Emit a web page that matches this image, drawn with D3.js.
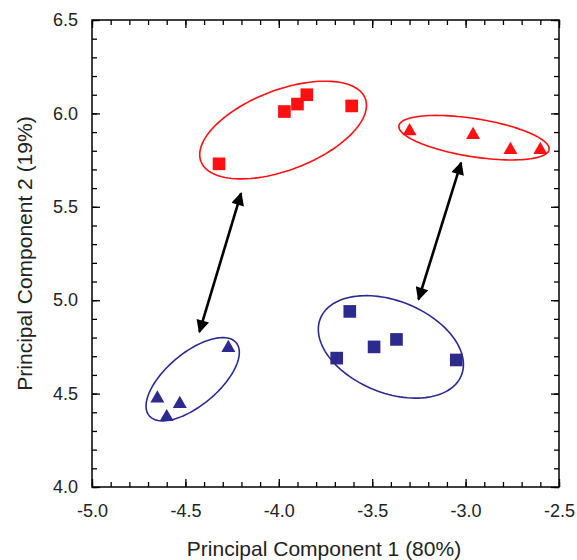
<!DOCTYPE html>
<html lang="en">
<head>
  <meta charset="UTF-8">
  <title>PCA scatter</title>
  <script src="https://d3js.org/d3.v7.min.js"></script>
  <style>
    body { margin: 0; background: #fff; font-family: "Liberation Sans", Arial, sans-serif; }
    .tick text { font-size: 18px; fill: #222; font-family: "Liberation Sans", Arial, sans-serif; }
  </style>
</head>
<body>
  <svg width="577" height="560"></svg>

  <script>
    // data, in PCA units
    const redSquares   = [[-4.32, 5.73], [-3.97, 6.01], [-3.90, 6.05], [-3.85, 6.10], [-3.61, 6.04]];
    const redTriangles = [[-3.30, 5.91], [-2.96, 5.89], [-2.76, 5.81], [-2.60, 5.81]];
    const blueTriangles = [[-4.65, 4.48], [-4.60, 4.38], [-4.53, 4.45], [-4.27, 4.75]];
    const blueSquares  = [[-3.62, 4.94], [-3.69, 4.69], [-3.49, 4.75], [-3.37, 4.79], [-3.05, 4.68]];

    // ellipses: center x, center y, semi-major, semi-minor, angle (deg)
    const ellipses = [
      {cx: -3.977, cy: 5.911, a: 0.471, b: 0.214, angle: 21, color: "red"},
      {cx: -2.955, cy: 5.870, a: 0.407, b: 0.102, angle: -9, color: "red"},
      {cx: -4.461, cy: 4.577, a: 0.304, b: 0.140, angle: 40, color: "blue"},
      {cx: -3.400, cy: 4.750, a: 0.407, b: 0.246, angle: -22, color: "blue"}
    ];

    // double headed arrows: [x1, y1, x2, y2]
    const arrows = [
      [-4.425, 4.830, -4.202, 5.572],
      [-3.252, 5.004, -3.024, 5.736]
    ];

    const xTicks = [-5.0, -4.5, -4.0, -3.5, -3.0, -2.5];
    const yTicks = [4.0, 4.5, 5.0, 5.5, 6.0, 6.5];

    const colors = {red: "#ff1010", blue: "#2c2a8e"};

    const svg = d3.select("svg");
    const margin = {top: 20, right: 18, bottom: 73, left: 92};
    const width = +svg.attr("width") - margin.left - margin.right;
    const height = +svg.attr("height") - margin.top - margin.bottom;

    const chart = svg.append("g")
        .attr("transform", `translate(${margin.left},${margin.top})`);

    const x = d3.scaleLinear().domain([-5, -2.5]).range([0, width]);
    const y = d3.scaleLinear().domain([4, 6.5]).range([height, 0]);

    const minorX = d3.range(-5, -2.5 + 1e-9, 0.1);
    const minorY = d3.range(4, 6.5 + 1e-9, 0.1);

    const fmt = d => d.toFixed(1);

    function styleAxis(g) {
      g.select(".domain").remove();
      g.selectAll(".tick line").attr("stroke", "#000").attr("stroke-width", 1.3);
    }

    // minor ticks (all four sides)
    chart.append("g").attr("transform", `translate(0,${height})`)
        .call(d3.axisBottom(x).tickValues(minorX).tickSize(-5).tickFormat("")).call(styleAxis);
    chart.append("g")
        .call(d3.axisTop(x).tickValues(minorX).tickSize(-5).tickFormat("")).call(styleAxis);
    chart.append("g")
        .call(d3.axisLeft(y).tickValues(minorY).tickSize(-5).tickFormat("")).call(styleAxis);
    chart.append("g").attr("transform", `translate(${width},0)`)
        .call(d3.axisRight(y).tickValues(minorY).tickSize(-5).tickFormat("")).call(styleAxis);

    // major ticks with labels
    chart.append("g").attr("transform", `translate(0,${height})`)
        .call(d3.axisBottom(x).tickValues(xTicks).tickSize(-8).tickPadding(17).tickFormat(fmt))
        .call(styleAxis);
    chart.append("g")
        .call(d3.axisTop(x).tickValues(xTicks).tickSize(-8).tickFormat("")).call(styleAxis);
    chart.append("g")
        .call(d3.axisLeft(y).tickValues(yTicks).tickSize(-8).tickPadding(14).tickFormat(fmt))
        .call(styleAxis);
    chart.append("g").attr("transform", `translate(${width},0)`)
        .call(d3.axisRight(y).tickValues(yTicks).tickSize(-8).tickFormat("")).call(styleAxis);

    // frame
    chart.append("rect")
        .attr("width", width).attr("height", height)
        .attr("fill", "none").attr("stroke", "#000").attr("stroke-width", 1.5);

    // ellipses
    const ellipseLine = d3.line().x(p => x(p[0])).y(p => y(p[1])).curve(d3.curveLinearClosed);
    ellipses.forEach(e => {
      const t = e.angle * Math.PI / 180;
      const pts = d3.range(0, 360, 3).map(deg => {
        const u = deg * Math.PI / 180;
        const px = e.a * Math.cos(u), py = e.b * Math.sin(u);
        return [e.cx + px * Math.cos(t) - py * Math.sin(t), e.cy + px * Math.sin(t) + py * Math.cos(t)];
      });
      chart.append("path")
          .attr("d", ellipseLine(pts))
          .attr("fill", "none")
          .attr("stroke", colors[e.color])
          .attr("stroke-width", 1.6);
    });

    // arrows
    const defs = svg.append("defs");
    defs.append("marker")
        .attr("id", "head")
        .attr("viewBox", "0 0 10 10")
        .attr("refX", 9).attr("refY", 5)
        .attr("markerWidth", 6).attr("markerHeight", 5)
        .attr("markerUnits", "strokeWidth")
        .attr("orient", "auto-start-reverse")
        .append("path").attr("d", "M0,0L10,5L0,10Z").attr("fill", "#000");

    chart.selectAll(".arrow")
      .data(arrows)
      .enter().append("line")
        .attr("class", "arrow")
        .attr("x1", d => x(d[0])).attr("y1", d => y(d[1]))
        .attr("x2", d => x(d[2])).attr("y2", d => y(d[3]))
        .attr("stroke", "#000").attr("stroke-width", 2.6)
        .attr("marker-start", "url(#head)")
        .attr("marker-end", "url(#head)");

    // markers
    const square = d3.symbol().type(d3.symbolSquare).size(160);
    const triangle = d3.symbol().type(d3.symbolTriangle).size(85);

    function drawPoints(data, sym, color, dy) {
      chart.append("g").selectAll("path")
        .data(data)
        .enter().append("path")
          .attr("d", sym)
          .attr("transform", d => `translate(${x(d[0])},${y(d[1]) + dy})`)
          .attr("fill", color);
    }
    drawPoints(redSquares, square, colors.red, 0);
    drawPoints(redTriangles, triangle, colors.red, 1);
    drawPoints(blueTriangles, triangle, colors.blue, 1);
    drawPoints(blueSquares, square, colors.blue, 0);

    // axis titles
    svg.append("text")
        .attr("x", 324)
        .attr("y", 556)
        .attr("text-anchor", "middle")
        .attr("font-size", 21)
        .attr("fill", "#222")
        .text("Principal Component 1 (80%)");

    svg.append("text")
        .attr("transform", `translate(32,${margin.top + height / 2}) rotate(-90)`)
        .attr("text-anchor", "middle")
        .attr("font-size", 21)
        .attr("fill", "#222")
        .text("Principal Component 2 (19%)");
  </script>
</body>
</html>
